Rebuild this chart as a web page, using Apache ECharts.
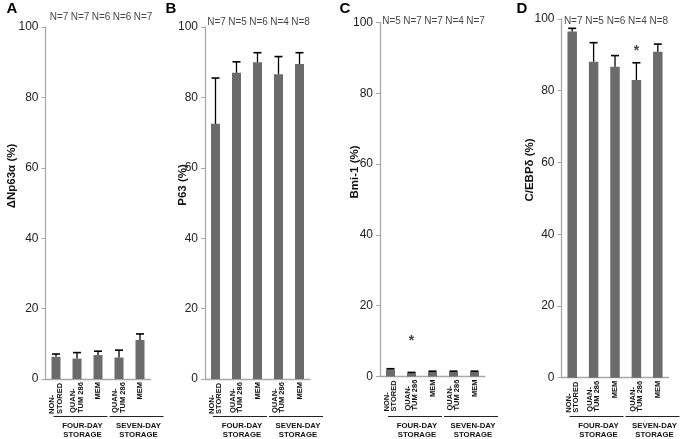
<!DOCTYPE html>
<html><head><meta charset="utf-8">
<script src="https://cdn.jsdelivr.net/npm/echarts@6/dist/echarts.min.js"></script>
<style>html,body{margin:0;padding:0;background:#fff}#c{width:683px;height:439px}</style>
</head><body><div id="c"></div>
<script>
// ---- data ----
const categories = ['NON-\nSTORED', 'QUAN-\nTUM 286', 'MEM', 'QUAN-\nTUM 286', 'MEM'];
const groupLabels = ['FOUR-DAY\nSTORAGE', 'SEVEN-DAY\nSTORAGE'];
const panelLetters = ['A', 'B', 'C', 'D'];
const yTitles = ['ΔNp63α (%)', 'P63 (%)', 'Bmi-1 (%)', 'C/EBPδ (%)'];
const yTicks = [0, 20, 40, 60, 80, 100];

const meanA = [6.3, 5.8, 6.8, 6.1, 11.1];
const sdA   = [0.8, 1.7, 1.1, 2.1, 1.7];
const nA    = ['N=7', 'N=7', 'N=6', 'N=6', 'N=7'];

const meanB = [72.5, 87.0, 90.0, 86.6, 89.5];
const sdB   = [13.0, 3.1, 2.7, 5.0, 3.2];
const nB    = ['N=7', 'N=5', 'N=6', 'N=4', 'N=8'];

const meanC = [2.0, 0.95, 1.3, 1.3, 1.3];
const sdC   = [0.2, 0.2, 0.2, 0.2, 0.2];
const nC    = ['N=5', 'N=7', 'N=7', 'N=4', 'N=7'];

const meanD = [96.5, 88.1, 86.7, 83.0, 90.9];
const sdD   = [0.9, 5.3, 3.1, 4.8, 2.1];
const nD    = ['N=7', 'N=5', 'N=6', 'N=4', 'N=8'];

// significance stars: [category index, value at which the star sits]
const starsA = [];
const starsB = [];
const starsC = [[1, 10.0]];
const starsD = [[3, 91.1]];

// ---- layout / style ----
const means = [meanA, meanB, meanC, meanD];
const sds = [sdA, sdB, sdC, sdD];
const ns = [nA, nB, nC, nD];
const stars = [starsA, starsB, starsC, starsD];
const grids = [
  {left: 45.5, top: 27, width: 105, height: 352},
  {left: 205, top: 27, width: 105, height: 352},
  {left: 380, top: 22.5, width: 105, height: 354},
  {left: 561.5, top: 19, width: 107, height: 358.7}
];
const nDy = [-10, -5, -1, 2.7];
const nDx = [3, 1, 1, 1];
const barW = [9, 9, 9, 9.5];
const letterPos = [[12, 9], [171, 9], [345, 9], [522, 9]];
const titlePos = [[12, 176], [183, 185], [355, 172], [530, 170]];
const FONT = 'Liberation Sans, Arial, sans-serif';
const AXIS_GRAY = '#a8a8a8';
const BAR = '#6b6b6b';
const LFS = 7.5;

const ctx = document.createElement('canvas').getContext('2d');
ctx.font = 'bold ' + LFS + 'px ' + FONT;
function labelFmt(v) {
  const lines = v.split('\n');
  const w = Math.ceil(Math.max(...lines.map(l => ctx.measureText(l).width)));
  if (lines.length === 1) return '{s|' + v + '}';
  return lines.map(l => '{m' + w + '|' + l + '}').join('\n');
}
const rich = {s: {fontSize: LFS, fontWeight: 'bold', fontFamily: FONT, color: '#111', lineHeight: 7.5}};
for (let w = 10; w < 60; w++) rich['m' + w] = {width: w, align: 'left', fontSize: LFS, fontWeight: 'bold', fontFamily: FONT, color: '#111', lineHeight: 7.5};

const option = {
  backgroundColor: '#fff',
  animation: false,
  grid: grids.map(g => Object.assign({containLabel: false}, g)),
  xAxis: grids.map((g, p) => ({
    type: 'category', gridIndex: p, data: categories,
    axisLine: {lineStyle: {color: AXIS_GRAY, width: 1.3}},
    axisTick: {show: false},
    axisLabel: {interval: 0, rotate: 90, margin: 3, verticalAlign: 'middle', formatter: labelFmt, rich: rich}
  })),
  yAxis: grids.map((g, p) => ({
    type: 'value', gridIndex: p, min: 0, max: 100, interval: 20,
    axisLine: {show: true, lineStyle: {color: AXIS_GRAY, width: 1.3}},
    axisTick: {show: true, length: 4, lineStyle: {color: AXIS_GRAY}},
    splitLine: {show: false},
    axisLabel: {fontSize: 12, color: '#222', fontFamily: FONT, margin: 7}
  })),
  series: []
};

for (let p = 0; p < 4; p++) {
  option.series.push({
    type: 'bar', xAxisIndex: p, yAxisIndex: p, data: means[p],
    barWidth: barW[p], itemStyle: {color: BAR}, z: 2
  });
  option.series.push({
    type: 'custom', xAxisIndex: p, yAxisIndex: p, z: 3,
    data: means[p].map((m, i) => [i, m, m + sds[p][i]]),
    encode: {x: 0, y: [1, 2]},
    renderItem: (params, api) => {
      const i = api.value(0);
      const b = api.coord([i, api.value(1)]);
      const t = api.coord([i, api.value(2)]);
      const hw = 4;
      return {type: 'group', children: [
        {type: 'line', shape: {x1: b[0], y1: b[1], x2: t[0], y2: t[1]}, style: {stroke: '#000', lineWidth: 1.3}},
        {type: 'line', shape: {x1: t[0] - hw, y1: t[1], x2: t[0] + hw, y2: t[1]}, style: {stroke: '#000', lineWidth: 1.6}}
      ]};
    }
  });
  option.series.push({
    type: 'scatter', xAxisIndex: p, yAxisIndex: p, symbolSize: 0, z: 4,
    data: ns[p].map((n, i) => ({value: [i, 100], name: n})),
    label: {show: true, position: 'inside', offset: [nDx[p], nDy[p]], formatter: d => d.name,
      fontSize: 10, color: '#111', fontFamily: FONT}
  });
  option.series.push({
    type: 'scatter', xAxisIndex: p, yAxisIndex: p, symbolSize: 0, z: 4,
    data: stars[p],
    label: {show: true, position: 'inside', formatter: '*', fontSize: 14, fontWeight: 'bold', color: '#111', fontFamily: FONT}
  });
}

// annotations: panel letters, axis titles, group brackets
const graphic = [];
for (let p = 0; p < 4; p++) {
  const g = grids[p];
  graphic.push({type: 'text', x: letterPos[p][0], y: letterPos[p][1],
    style: {text: panelLetters[p], font: 'bold 15px ' + FONT, fill: '#000', align: 'center', verticalAlign: 'middle'}});
  graphic.push({type: 'text', x: titlePos[p][0], y: titlePos[p][1], rotation: Math.PI / 2,
    style: {text: yTitles[p], font: 'bold 11.5px ' + FONT, fill: '#111', align: 'center', verticalAlign: 'middle'}});
  const segs = [[8, 62], [64, 118]];
  const centers = [37, 93];
  for (let k = 0; k < 2; k++) {
    graphic.push({type: 'line', shape: {x1: g.left + segs[k][0], y1: 416.5, x2: g.left + segs[k][1], y2: 416.5},
      style: {stroke: '#222', lineWidth: 1}});
    graphic.push({type: 'text', x: g.left + centers[k], y: 421,
      style: {text: groupLabels[k], font: 'bold 7.8px ' + FONT, fill: '#111', align: 'center', verticalAlign: 'top', lineHeight: 9.5}});
  }
}
option.graphic = graphic;

const chart = echarts.init(document.getElementById('c'), null, {renderer: 'canvas'});
chart.setOption(option);
</script></body></html>
